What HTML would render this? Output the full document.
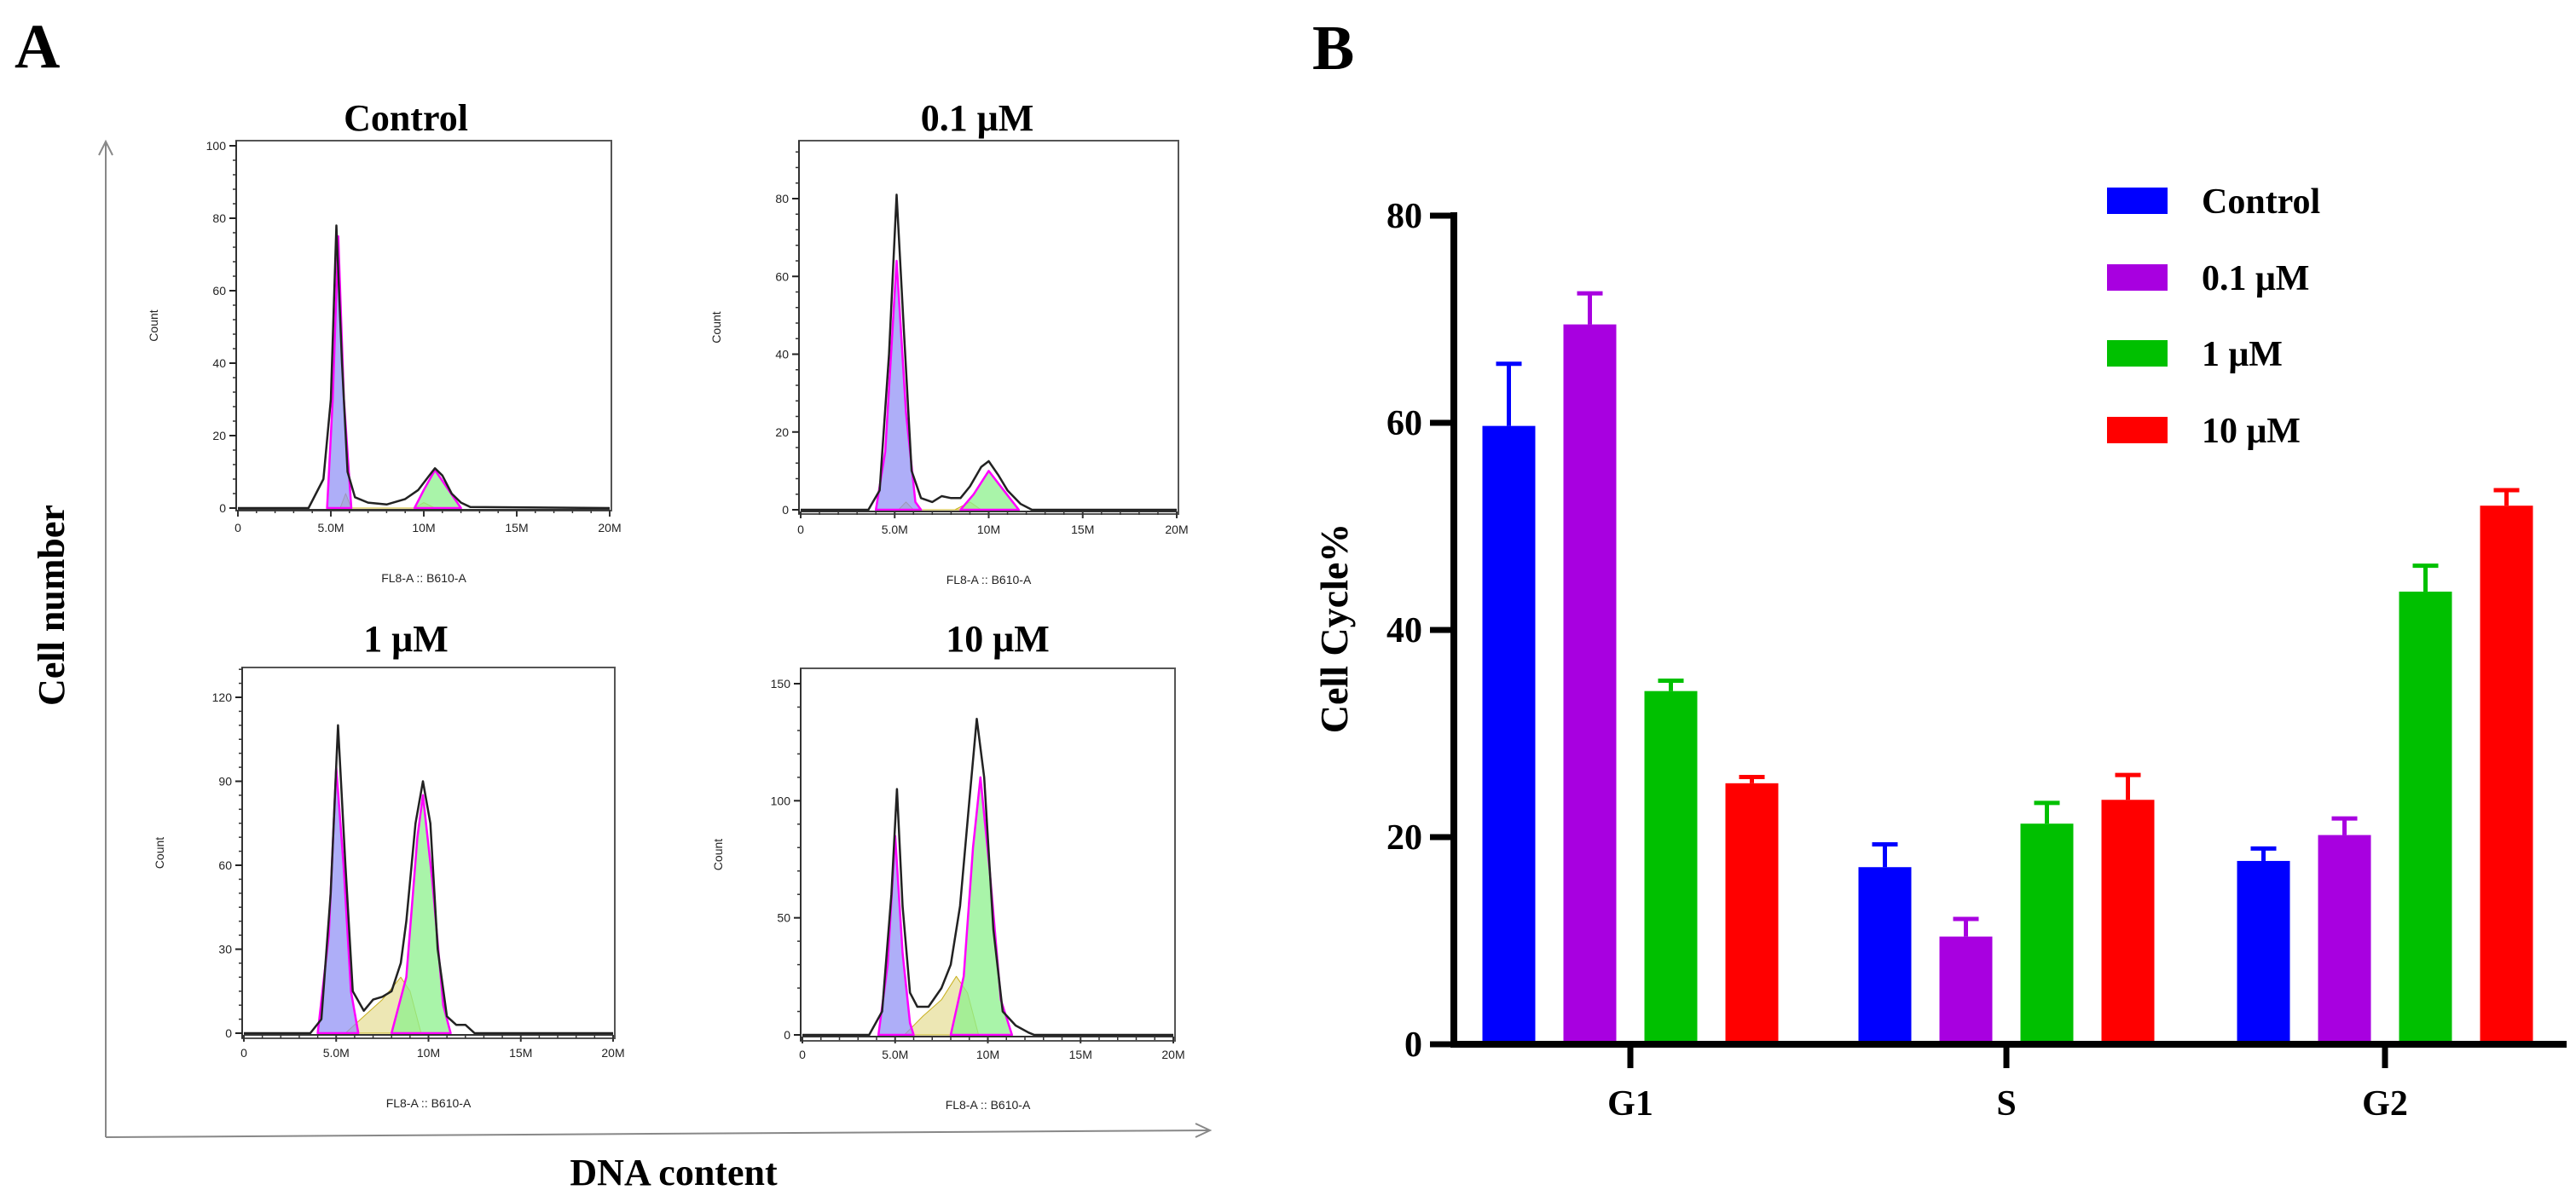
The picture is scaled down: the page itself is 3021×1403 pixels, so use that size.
<!DOCTYPE html>
<html><head><meta charset="utf-8">
<style>
html,body{margin:0;padding:0;background:#fff;}
svg{display:block;}
text{font-family:"Liberation Serif","DejaVu Serif",serif;}
.sm{font-family:"Liberation Sans","DejaVu Sans",sans-serif;font-size:14px;fill:#222;}
</style></head>
<body>
<svg id="fig" width="3021" height="1403" viewBox="0 0 3021 1403" xmlns="http://www.w3.org/2000/svg">
<text x="17" y="79" font-size="74" font-weight="bold">A</text>
<text x="1539" y="81" font-size="74" font-weight="bold">B</text>
<g id="panelA">
<line x1="124" y1="1334" x2="124" y2="168" stroke="#888" stroke-width="2"/>
<polyline points="116,182 124,166 132,182" fill="none" stroke="#888" stroke-width="2"/>
<line x1="124" y1="1334" x2="1418" y2="1326" stroke="#888" stroke-width="2"/>
<polyline points="1402,1318 1419,1326 1402,1334" fill="none" stroke="#888" stroke-width="2"/>
<text x="65" y="710" font-size="44" font-weight="bold" text-anchor="middle" transform="rotate(-90 65 710)" dominant-baseline="middle">Cell number</text>
<text x="790" y="1390" font-size="44" font-weight="bold" text-anchor="middle">DNA content</text>
</g>
<g id="panelB"></g>
</svg>
<script>
// ---------- Panel B data ----------
const categories = ["G1","S","G2"];
const seriesNames = ["Control","0.1 μM","1 μM","10 μM"];
const seriesColors = ["#0000ff","#a800e0","#00c000","#ff0000"];
const controlVals = [59.7,17.1,17.7];
const p01Vals = [69.5,10.4,20.2];
const p1Vals = [34.1,21.3,43.7];
const p10Vals = [25.2,23.6,52.0];
const controlErr = [6.0,2.2,1.2];
const p01Err = [3.0,1.7,1.6];
const p1Err = [1.0,2.0,2.5];
const p10Err = [0.6,2.4,1.5];
const yTicks = [0,20,40,60,80];

// ---------- Panel A data (x in M, y in counts) ----------
const ctrlOutline = [[0,0],[3.8,0],[4.0,2],[4.6,8],[5.0,30],[5.3,78],[5.6,40],[5.9,10],[6.3,3],[7,1.5],[8,1],[9,2.5],[9.7,5],[10.3,9],[10.6,11],[11,9],[11.5,4],[12,1.5],[12.5,0.3],[20,0]];
const ctrlG1 = [[4.8,0],[5.1,30],[5.4,75],[5.7,30],[6.1,0]];
const ctrlS = [[5.5,0],[5.8,4],[6.1,0],[9.5,0],[10,1.5],[10.6,0]];
const ctrlG2 = [[9.5,0],[10,5],[10.6,10.5],[11.2,6],[12,0]];
const p01Outline = [[0,0],[3.6,0],[4.2,5],[4.7,40],[5.1,81],[5.5,45],[5.9,10],[6.4,3],[7,2],[7.5,3.5],[8,3],[8.5,3],[9,6],[9.6,11],[10,12.5],[10.5,9],[11,5],[11.7,1.5],[12.3,0],[20,0]];
const p01G1 = [[4.0,0],[4.5,15],[5.1,64],[5.6,25],[6.1,2],[6.4,0]];
const p01S = [[5.2,0],[5.6,2],[6.0,0],[8.2,0],[9,2],[9.6,0]];
const p01G2 = [[8.5,0],[9.2,4],[10,10],[10.8,5],[11.6,0]];
const p1Outline = [[0,0],[3.6,0],[4.2,5],[4.7,50],[5.1,110],[5.5,60],[5.9,15],[6.5,8],[7,12],[7.5,13],[8,15],[8.5,25],[8.8,40],[9.3,75],[9.7,90],[10.1,75],[10.5,30],[11,6],[11.5,3],[12,3],[12.5,0],[20,0]];
const p1G1 = [[4.0,0],[4.6,35],[5.0,95],[5.4,60],[5.8,15],[6.2,0]];
const p1S = [[5.5,0],[6.5,6],[7.5,12],[8.5,20],[9,15],[9.6,0]];
const p1G2 = [[8.0,0],[8.8,20],[9.4,70],[9.7,85],[10.2,55],[10.8,10],[11.2,0]];
const p10Outline = [[0,0],[3.6,0],[4.3,10],[4.8,60],[5.1,105],[5.4,55],[5.8,18],[6.2,12],[6.8,12],[7.5,20],[8,30],[8.5,55],[9,100],[9.4,135],[9.8,110],[10.3,45],[10.8,10],[11.5,4],[12.2,1],[12.5,0],[20,0]];
const p10G1 = [[4.1,0],[4.6,30],[5.0,85],[5.4,35],[5.8,5],[6.0,0]];
const p10S = [[5.5,0],[6.5,8],[7.5,15],[8.3,25],[8.9,18],[9.5,0]];
const p10G2 = [[8.0,0],[8.7,25],[9.2,80],[9.6,110],[10.1,70],[10.7,15],[11.3,0]];
const xTickVals = [0,5,10,15,20];
const xTickLabels = ["0","5.0M","10M","15M","20M"];
const ctrlYTicks = [0,20,40,60,80,100];
const p01YTicks = [0,20,40,60,80];
const p1YTicks = [0,30,60,90,120];
const p10YTicks = [0,50,100,150];

const NS="http://www.w3.org/2000/svg";
function mk(tag,attrs,parent){const e=document.createElementNS(NS,tag);for(const k in attrs)e.setAttribute(k,attrs[k]);parent.appendChild(e);return e;}

// ---------- Histograms ----------
const A=document.getElementById('panelA');
const panels=[
 {title:"Control",box:[277,165,717,599],x0:279,x1:715,y0:596,yTop:171,vTop:100,ticks:ctrlYTicks,minor:5,out:ctrlOutline,g1:ctrlG1,s:ctrlS,g2:ctrlG2,tx:476,ty:153,name:"control"},
 {title:"0.1 μM",box:[937,165,1382,603],x0:939,x1:1380,y0:598,yTop:233,vTop:80,ticks:p01YTicks,minor:5,out:p01Outline,g1:p01G1,s:p01S,g2:p01G2,tx:1146,ty:153,name:"p01"},
 {title:"1 μM",box:[284,783,721,1218],x0:286,x1:719,y0:1212,yTop:818,vTop:120,ticks:p1YTicks,minor:6,out:p1Outline,g1:p1G1,s:p1S,g2:p1G2,tx:476,ty:764,name:"p1"},
 {title:"10 μM",box:[939,784,1378,1221],x0:941,x1:1376,y0:1214,yTop:802,vTop:150,ticks:p10YTicks,minor:5,out:p10Outline,g1:p10G1,s:p10S,g2:p10G2,tx:1170,ty:764,name:"p10"}
];
panels.forEach(p=>{
 const g=mk('g',{},A);
 
 
 const xs=v=>p.x0+(p.x1-p.x0)*v/20;
 const ys=v=>p.y0-(p.y0-p.yTop)*v/p.vTop;
 const t=mk('text',{x:p.tx,y:p.ty,'font-size':44,'font-weight':'bold','text-anchor':'middle'},g);
 t.textContent=p.title;
 
 
 const b=p.box;
 const r=mk('rect',{x:b[0],y:b[1],width:b[2]-b[0],height:b[3]-b[1],fill:'none',stroke:'#555','stroke-width':2},g);
 
 
 const poly=(pts,fill,stroke,sw)=>{
   const d=pts.map(q=>xs(q[0]).toFixed(1)+','+ys(q[1]).toFixed(1)).join(' ');
   return mk(fill==='none'?'polyline':'polygon',{points:d,fill:fill,stroke:stroke,'stroke-width':sw,'stroke-linejoin':'round'},g);
 };
 const f1=poly(p.s,'rgba(225,215,130,0.6)','#c9b020',1);
 
 
 const f2=poly(p.g1,'rgba(140,140,245,0.7)','#ff00ff',2.5);
 
 
 const f3=poly(p.g2,'rgba(140,240,140,0.75)','#ff00ff',2.5);
 
 
 const o=poly(p.out,'none','#222',2.5);
 
 
 mk('line',{x1:p.x0,y1:p.y0+2,x2:p.x1,y2:p.y0+2,stroke:'#333','stroke-width':2},g);
 mk('line',{x1:b[0],y1:b[1],x2:b[0],y2:b[3],stroke:'#333','stroke-width':2},g);
 const step=p.ticks[1]-p.ticks[0];
 const vmaxMinor=(p.y0-b[1])/(p.y0-p.yTop)*p.vTop;
 for(let v=0;v<=vmaxMinor;v+=step/p.minor){
   mk('line',{x1:b[0]-4,y1:ys(v),x2:b[0],y2:ys(v),stroke:'#333','stroke-width':1.5},g);
 }
 p.ticks.forEach(v=>{
   mk('line',{x1:b[0]-8,y1:ys(v),x2:b[0],y2:ys(v),stroke:'#222','stroke-width':2},g);
   const tl=mk('text',{x:b[0]-12,y:ys(v)+5,'text-anchor':'end',class:'sm'},g);
   tl.textContent=v;
   
   
 });
 for(let v=0;v<=20;v+=1){
   mk('line',{x1:xs(v),y1:p.y0+2,x2:xs(v),y2:p.y0+(v%5===0?10:6),stroke:'#333','stroke-width':v%5===0?2:1.5},g);
 }
 xTickVals.forEach((v,i)=>{
   const tl=mk('text',{x:xs(v),y:p.y0+28,'text-anchor':'middle',class:'sm'},g);
   tl.textContent=xTickLabels[i];
   
   
 });
 const xl=mk('text',{x:(p.x0+p.x1)/2,y:p.y0+87,'text-anchor':'middle',class:'sm','font-size':17},g);
 xl.textContent="FL8-A :: B610-A";
 
 
 const cx=b[0]-92, cy=(b[1]+b[3])/2;
 const cl=mk('text',{x:cx,y:cy,'text-anchor':'middle',class:'sm',transform:'rotate(-90 '+cx+' '+cy+')'},g);
 cl.textContent="Count";
 
 
});

// ---------- Bar chart ----------
const B=document.getElementById('panelB');
const axX=1705, y0=1225, yTop=253, vMax=80;
const yScale=v=>y0-(y0-yTop)*v/vMax;
const groupCenters=[1912,2353,2797];
const barW=62, barStep=95;
const allVals=[controlVals,p01Vals,p1Vals,p10Vals];
const allErr=[controlErr,p01Err,p1Err,p10Err];
allVals.forEach((vals,si)=>{
 vals.forEach((v,ci)=>{
  const cx=groupCenters[ci]+(si-1.5)*barStep;
  const top=yScale(v), et=yScale(v+allErr[si][ci]);
  const el=mk('line',{x1:cx,y1:top,x2:cx,y2:et,stroke:seriesColors[si],'stroke-width':5},B);
  
  
  mk('line',{x1:cx-15,y1:et,x2:cx+15,y2:et,stroke:seriesColors[si],'stroke-width':5},B);
  const r=mk('rect',{x:cx-barW/2,y:top,width:barW,height:y0-top,fill:seriesColors[si]},B);
  
  
 });
});
const ya=mk('line',{x1:axX,y1:yTop-4,x2:axX,y2:y0+4,stroke:'#000','stroke-width':8},B);


const xa=mk('line',{x1:axX-4,y1:y0,x2:3010,y2:y0,stroke:'#000','stroke-width':8},B);


yTicks.forEach(v=>{
 mk('line',{x1:axX-28,y1:yScale(v),x2:axX,y2:yScale(v),stroke:'#000','stroke-width':7},B);
 const t=mk('text',{x:1668,y:yScale(v)+14,'text-anchor':'end','font-size':42,'font-weight':'bold'},B);
 t.textContent=v;
 
 
});
categories.forEach((c,i)=>{
 mk('line',{x1:groupCenters[i],y1:y0,x2:groupCenters[i],y2:y0+28,stroke:'#000','stroke-width':7},B);
 const t=mk('text',{x:groupCenters[i],y:1308,'text-anchor':'middle','font-size':42,'font-weight':'bold'},B);
 t.textContent=c;
 
 
});
const yt=mk('text',{x:1580,y:737,'text-anchor':'middle','font-size':46,'font-weight':'bold',transform:'rotate(-90 1580 737)'},B);
yt.textContent="Cell Cycle%";


const legY=[236,326,415,505];
seriesNames.forEach((n,i)=>{
 const r=mk('rect',{x:2471,y:legY[i]-16,width:71,height:31,fill:seriesColors[i]},B);
 
 
 const t=mk('text',{x:2582,y:legY[i]+14,'font-size':42,'font-weight':'bold'},B);
 t.textContent=n;
 
 
});
</script>
</body></html>
